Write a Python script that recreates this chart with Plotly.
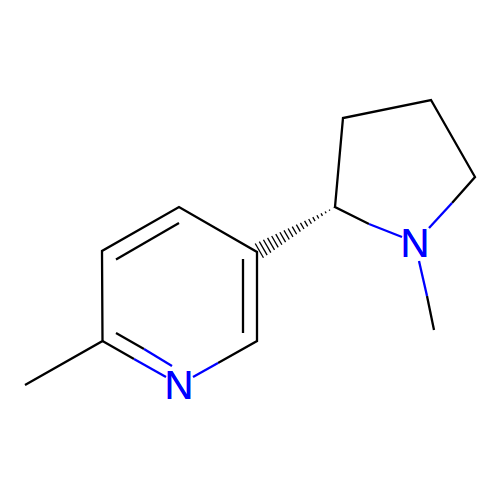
import plotly.graph_objects as go

# Bond end points (None separates the bonds)
black_x = [25, 102.5, 102, 179, 257, 257, 218, None, 102.5, 134, None,
           116, 144, None, 116, 179, None, 243, 243, None,
           369, 335, 343, 431, 475, 452, None, 427, 434]
black_y = [385, 341, 251, 207, 252, 341, 363, None, 341, 359, None,
           333, 349, None, 259.5, 223, None, 259, 333, None,
           224, 207, 118, 100, 177, 203, None, 296, 330]
blue_x = [134, 166, None, 144, 172, None, 218, 193, None, 369, 402, None, 452, 429, None, 427, 419]
blue_y = [359, 377, None, 349, 366, None, 363, 377, None, 224, 237, None, 203, 228, None, 296, 261]

atom_x = [179, 415]
atom_y = [388.5, 246.5]
atom_labels = ["N", "N"]

# Hashed wedge: narrow tip, wide end, stripe positions along the bond
wedge_tip = (335, 207)
wedge_end = (257, 252)
wedge_half_width = 8.5
stripe_positions = [0.02, 0.07, 0.12, 0.17, 0.22, 0.27, 0.32, 0.37, 0.42, 0.47, 0.52,
                    0.57, 0.62, 0.67, 0.72, 0.77, 0.82, 0.87, 0.92, 0.97]

dx, dy = wedge_end[0] - wedge_tip[0], wedge_end[1] - wedge_tip[1]
length = (dx * dx + dy * dy) ** 0.5
nx, ny = -dy / length, dx / length
hash_x, hash_y = [], []
for t in stripe_positions:
    cx, cy = wedge_tip[0] + dx * t, wedge_tip[1] + dy * t
    h = wedge_half_width * t
    hash_x += [cx - nx * h, cx + nx * h, None]
    hash_y += [cy - ny * h, cy + ny * h, None]

fig = go.Figure()
fig.add_trace(go.Scatter(x=black_x, y=black_y, mode="lines",
                         line=dict(color="#000000", width=2.3)))
fig.add_trace(go.Scatter(x=blue_x, y=blue_y, mode="lines",
                         line=dict(color="#0000FF", width=2.3)))
fig.add_trace(go.Scatter(x=hash_x, y=hash_y, mode="lines",
                         line=dict(color="#000000", width=1.3)))
fig.add_trace(go.Scatter(x=atom_x, y=atom_y, mode="text", text=atom_labels,
                         textposition="middle center",
                         textfont=dict(family="Liberation Sans", size=40, color="#0000FF",
                                       shadow="0 0 0.6px #0000FF")))
fig.update_layout(width=500, height=500, margin=dict(l=0, r=0, t=0, b=0),
                  paper_bgcolor="white", plot_bgcolor="white", showlegend=False,
                  hovermode=False,
                  xaxis=dict(range=[0, 500], visible=False, fixedrange=True),
                  yaxis=dict(range=[500, 0], visible=False, fixedrange=True))
fig.write_html("out.html", config=dict(displayModeBar=False),
               post_script="document.body.style.margin='0';document.body.style.overflow='hidden';")
